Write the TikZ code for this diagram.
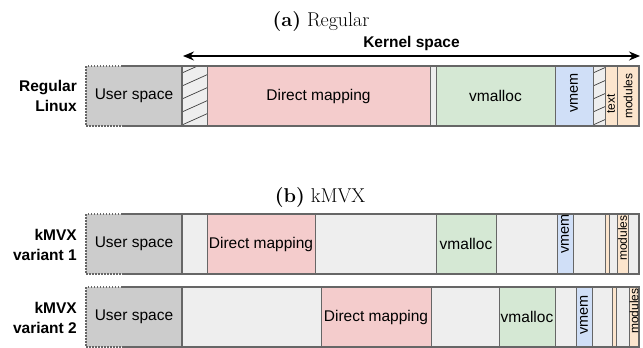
\documentclass[tikz,border=0pt]{standalone}
\usepackage{fontspec}
\setsansfont{Liberation Sans}
\usetikzlibrary{arrows.meta}
\definecolor{userfill}{HTML}{CCCCCC}
\definecolor{freefill}{HTML}{EEEEEE}
\definecolor{dmfill}{HTML}{F4CCCC}
\definecolor{vmallocfill}{HTML}{D5E8D4}
\definecolor{vmemfill}{HTML}{D0DFF7}
\definecolor{textfill}{HTML}{FCE5CD}
\definecolor{edgegray}{HTML}{666666}
\tikzset{
  seg box/.style={draw=edgegray,line width=0.8pt,inner sep=0pt,outer sep=0pt,minimum height=60pt,anchor=north west},
  seg text/.style={font=\sffamily\fontsize{15.5}{18}\selectfont,inner sep=0pt},
  seg vtext/.style={font=\sffamily\fontsize{14.5}{16}\selectfont,inner sep=0pt,rotate=90},
  seg small text/.style={font=\sffamily\fontsize{12}{14}\selectfont,inner sep=0pt,rotate=90},
  row label/.style={font=\sffamily\bfseries\fontsize{15.5}{20.5}\selectfont,align=right,anchor=east,inner sep=0pt},
  kernel text/.style={font=\sffamily\bfseries\fontsize{15.5}{18}\selectfont,inner sep=0pt},
  title text/.style={font=\fontsize{20}{24}\selectfont,anchor=base,inner sep=0pt},
  outer frame/.style={draw=edgegray,line width=1.5pt},
  user dots/.style={edgegray,line width=1.5pt,dash pattern=on 1.5pt off 1.5pt},
  kernel edge/.style={edgegray,line width=2.2pt},
  hatch line/.style={line width=0.7pt,black!75},
  span arrow/.style={line width=1.4pt,{Stealth[length=11pt,width=9pt]}-{Stealth[length=11pt,width=9pt]}},
}
% one block of the address space
\newcommand{\memSeg}[5]{%
  \node[seg box,fill=#5,minimum width=#3pt-#2pt] (#1) at (#2,#4) {};
}
% block with guard hatching
\newcommand{\hatchSeg}[4]{%
  \memSeg{#1}{#2}{#3}{#4}{freefill}
  \begin{scope}
    \clip (#2,#4) rectangle (#3,#4+60);
    \foreach \k in {0,...,7}
      \draw[hatch line] (#2,#4+72-\k*13) -- ++(40,-18);
  \end{scope}
  \draw[draw=edgegray,line width=0.8pt] (#1.north west) rectangle (#1.south east);
}
% user part, dotted on the open side
\newcommand{\userSpace}[2]{%
  \node[seg box,fill=userfill,draw=none,minimum width=96pt] (#1) at (86,#2) {};
  \draw[user dots] ([xshift=36pt]#1.north west) -- (#1.north west) -- (#1.south west) -- ([xshift=36pt]#1.south west);
  \draw[edgegray,line width=1.5pt] ([xshift=36pt]#1.north west) -- (#1.north east);
  \draw[edgegray,line width=1.5pt] ([xshift=36pt]#1.south west) -- (#1.south east);
  \node[seg text] (#1-t) at (#1) {User space};
}

\begin{document}
\begin{tikzpicture}[x=1pt,y=-1pt]
\useasboundingbox (0,0) rectangle (643,348);

%% (a) regular
\node[title text] (title-a) at (321,26) {\textbf{(a)} Regular};
\coordinate (ks-left) at (183,56);
\coordinate (ks-right) at (640,56);
\draw[span arrow] (ks-left) -- node[kernel text,above=4.5pt] (ks-label) {Kernel space} (ks-right);

\node[row label] (a-label) at (77,96) {Regular\\Linux};
\userSpace{a-user}{66}
\hatchSeg{a-guard}{182}{207}{66}
\memSeg{a-dm}{207}{430}{66}{dmfill}
\memSeg{a-gap}{430}{436}{66}{freefill}
\memSeg{a-vmalloc}{436}{555}{66}{vmallocfill}
\memSeg{a-vmem}{555}{593}{66}{vmemfill}
\hatchSeg{a-hole}{593}{605}{66}
\memSeg{a-text}{605}{617}{66}{textfill}
\memSeg{a-mod}{617}{639}{66}{textfill}
\draw[outer frame] (a-user.north east) rectangle (a-mod.south east);
\draw[kernel edge] (a-user.north east) -- (a-user.south east);
\node[seg text] (a-dm-t) at (a-dm) {Direct mapping};
\node[seg text] (a-vmalloc-t) at (a-vmalloc) {vmalloc};
\node[seg vtext] (a-vmem-t) at ([yshift=3pt]a-vmem.center) {vmem};
\node[seg small text] (a-text-t) at ([yshift=-8pt]a-text.center) {text};
\node[seg small text] (a-mod-t) at (a-mod) {modules};

%% (b) kMVX
\node[title text] (title-b) at (320,202) {\textbf{(b)} kMVX};

% variant 1
\node[row label] (v1-label) at (77,245) {kMVX\\variant 1};
\userSpace{v1-user}{214}
\foreach \nm/\lx/\rx/\col in {f1/182/207/freefill,dm/207/315/dmfill,f2/315/436/freefill,%
vmalloc/436/496/vmallocfill,f3/496/557/freefill,vmem/557/573/vmemfill,%
f4/573/605/freefill,text/605/609/textfill,f5/609/617/freefill,%
mod/617/628/textfill,f6/628/639/freefill}
  {\memSeg{v1-\nm}{\lx}{\rx}{214}{\col}}
\draw[outer frame] (v1-user.north east) rectangle (v1-f6.south east);
\draw[kernel edge] (v1-user.north east) -- (v1-user.south east);
\node[seg text] (v1-dm-t) at (v1-dm) {Direct mapping};
\node[seg text] (v1-vmalloc-t) at (v1-vmalloc) {vmalloc};
\node[seg vtext] (v1-vmem-t) at ([yshift=10pt]v1-vmem.center) {vmem};
\node[seg small text] (v1-mod-t) at ([yshift=6pt]v1-mod.center) {modules};

% variant 2
\node[row label] (v2-label) at (77,318) {kMVX\\variant 2};
\userSpace{v2-user}{287}
\foreach \nm/\lx/\rx/\col in {f1/182/321/freefill,dm/321/431/dmfill,f2/431/499/freefill,%
vmalloc/499/555/vmallocfill,f3/555/576/freefill,vmem/576/592/vmemfill,%
f4/592/612/freefill,text/612/616/textfill,f5/616/629/freefill,%
mod/629/639/textfill}
  {\memSeg{v2-\nm}{\lx}{\rx}{287}{\col}}
\draw[outer frame] (v2-user.north east) rectangle (v2-mod.south east);
\draw[kernel edge] (v2-user.north east) -- (v2-user.south east);
\node[seg text] (v2-dm-t) at (v2-dm) {Direct mapping};
\node[seg text] (v2-vmalloc-t) at (v2-vmalloc) {vmalloc};
\node[seg vtext] (v2-vmem-t) at ([yshift=2pt]v2-vmem.center) {vmem};
\node[seg small text] (v2-mod-t) at ([yshift=6pt]v2-mod.center) {modules};
\end{tikzpicture}
\end{document}
